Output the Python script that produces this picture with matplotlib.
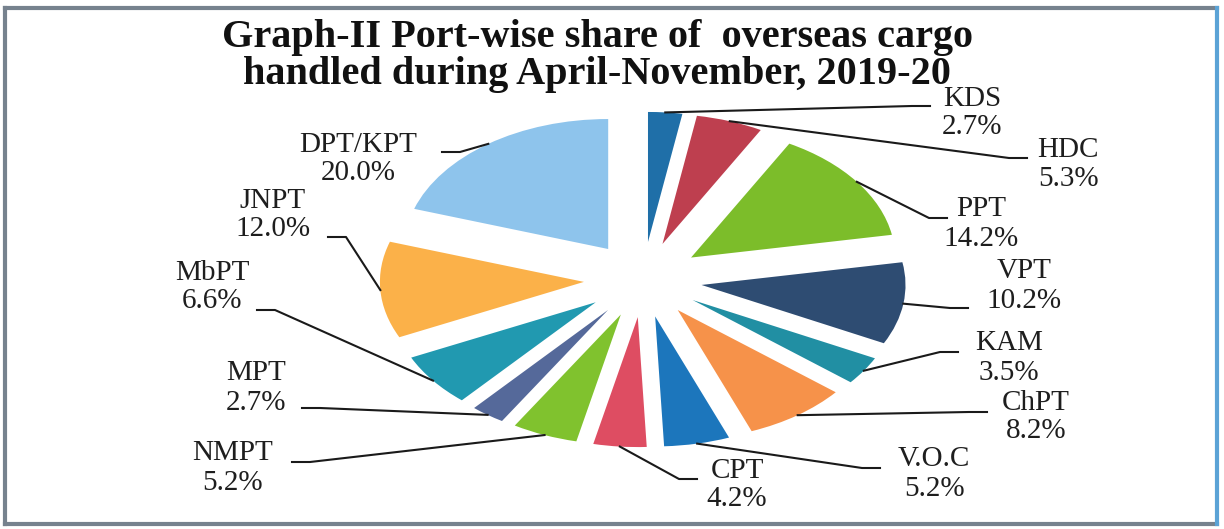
import numpy as np
import matplotlib.pyplot as plt
from matplotlib.lines import Line2D

ports = ["KDS", "HDC", "PPT", "VPT", "KAM", "ChPT", "V.O.C", "CPT",
         "NMPT", "MPT", "MbPT", "JNPT", "DPT/KPT"]
shares = [2.7, 5.3, 14.2, 10.2, 3.5, 8.2, 5.2, 4.2, 5.2, 2.7, 6.6, 12.0, 20.0]
colors = ["#1f6fa8", "#be3f4f", "#7cbd2a", "#2e4c72", "#218fa3", "#f6924a",
          "#1c76bc", "#de4d62", "#80c22e", "#55699a", "#2199b0", "#fbb149",
          "#8ec4ec"]

title_lines = ["Graph-II Port-wise share of  overseas cargo",
               "handled during April-November, 2019-20"]

# label layout, in pixels of the 1224x529 picture (y measured from the top)
label_pos = [(972, 113), (1068, 164), (981, 224), (1024, 286), (1009, 358),
             (1036, 417), (934, 474), (737, 485), (233, 468), (256, 388),
             (212, 287), (273, 215), (358, 159)]
leader_end = [(930, 106), (1027, 158), (947, 218), (968, 308), (958, 352),
              (987, 412), (880, 468), (697, 479), (292, 462), (302, 408),
              (257, 310), (328, 237), (442, 152)]
ELBOW = 18
W, H = 1224, 529
CX = 643


def to_fig(px, py):
    return px / W, 1 - py / H


def main() -> None:
    plt.rcParams["font.family"] = ["Liberation Serif", "DejaVu Serif"]
    fig = plt.figure(figsize=(W / 100, H / 100), dpi=100)
    fig.patch.set_facecolor("white")

    ax = fig.add_axes([0.2753, 0.103, 0.5, 0.7372])
    wedges, _ = ax.pie(shares, colors=colors, explode=[0.29] * len(shares),
                       startangle=90, counterclock=False,
                       wedgeprops=dict(linewidth=0))
    ax.set_aspect("auto")
    ax.set_xlim(-1.5, 1.5)
    ax.set_ylim(-1.5, 1.5)

    to_figure = fig.transFigure.inverted()
    for w, name, val, pos, end in zip(wedges, ports, shares, label_pos, leader_end):
        mid = np.deg2rad((w.theta1 + w.theta2) / 2)
        pt = (w.center[0] + w.r * np.cos(mid), w.center[1] + w.r * np.sin(mid))
        ax_pt = to_figure.transform(ax.transData.transform(pt))
        step = -ELBOW if end[0] > CX else ELBOW
        ex, ey = to_fig(*end)
        bx, by = to_fig(end[0] + step, end[1])
        fig.add_artist(Line2D([ax_pt[0], bx, ex], [ax_pt[1], by, ey],
                              transform=fig.transFigure, color="#1a1a1a", lw=1.5))
        fx, fy = to_fig(*pos)
        fig.text(fx, fy, f"{name}\n{val:.1f}%", ha="center", va="center",
                 fontsize=21, color="#1e1e1e", linespacing=1.15)

    for line, base in zip(title_lines, [47, 84]):
        fx, fy = to_fig(597, base)
        fig.text(fx, fy, line, ha="center", va="baseline", fontsize=29,
                 fontweight="bold", color="#111111")

    # picture frame
    edge = "#76828e"
    fig.add_artist(Line2D([0.004, 0.994], [0.985, 0.985], transform=fig.transFigure, color=edge, lw=3))
    fig.add_artist(Line2D([0.004, 0.004], [0.01, 0.985], transform=fig.transFigure, color=edge, lw=3))
    fig.add_artist(Line2D([0.004, 0.994], [0.01, 0.01], transform=fig.transFigure, color=edge, lw=3))
    fig.add_artist(Line2D([0.994, 0.994], [0.01, 0.985], transform=fig.transFigure, color="#5ba3d6", lw=3))

    fig.savefig("out.png", dpi=100)


if __name__ == "__main__":
    main()
